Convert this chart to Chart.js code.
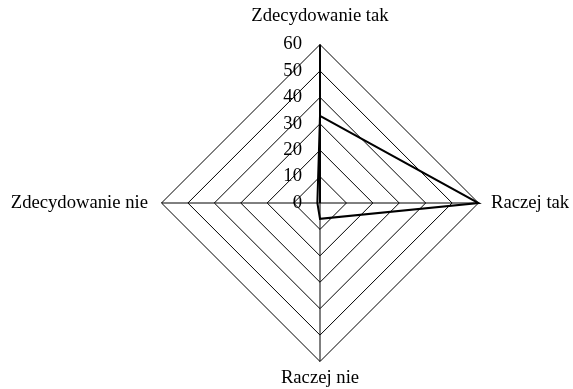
<!DOCTYPE html>
<html>
<head>
<meta charset="utf-8">
<title>Radar</title>
<script src="https://cdn.jsdelivr.net/npm/chart.js@4/dist/chart.umd.min.js"></script>
<style>
  html, body { margin: 0; padding: 0; background: #fff; overflow: hidden; width: 573px; height: 389px; }
  /* canvas is wider/taller than the window so the radius and centre land where the original has them */
  #radar { position: absolute; left: -40px; top: 0; }
</style>
</head>
<body>
<canvas id="radar" width="720" height="396"></canvas>
<script>
const categories = ["Zdecydowanie tak", "Raczej tak", "Raczej nie", "Zdecydowanie nie"];
const answers = [33, 60, 6, 1];
const tickLabels = ["0", "10", "20", "30", "40", "50", "60"];

const FONT = "'Liberation Serif', 'Times New Roman', serif";
const FONT_SIZE = 18.67;
// per-label gap between the outer polygon and the category text
const labelPad = [17.1, 12.5, 5.5, 13.5];

// value labels sit left of the vertical axis, not centred on it
const tickLabelPlugin = {
  id: "tickLabels",
  afterDraw(chart) {
    const r = chart.scales.r;
    const ctx = chart.ctx;
    ctx.save();
    ctx.font = FONT_SIZE + "px " + FONT;
    ctx.fillStyle = "#000";
    ctx.textAlign = "right";
    ctx.textBaseline = "middle";
    r.ticks.forEach((t, i) => {
      const y = r.yCenter - r.getDistanceFromCenterForValue(t.value);
      ctx.fillText(tickLabels[i] ?? t.label, r.xCenter - 18, y);
    });
    ctx.restore();
  },
};

new Chart(document.getElementById("radar"), {
  type: "radar",
  data: {
    labels: categories,
    datasets: [{
      data: answers,
      borderColor: "#000",
      backgroundColor: "transparent",
      borderWidth: 2,
      fill: false,
      pointRadius: 0,
      pointHoverRadius: 0,
      tension: 0,
    }],
  },
  options: {
    responsive: false,
    animation: false,
    events: [],
    layout: { padding: 0 },
    plugins: { legend: { display: false }, tooltip: { enabled: false } },
    scales: {
      r: {
        min: 0,
        max: 60,
        ticks: { stepSize: 10, display: false },
        grid: { color: "#000", lineWidth: 1, circular: false },
        angleLines: {
          color: "#000",
          lineWidth: (ctx) => (ctx.index === 0 ? 2 : 1),
        },
        pointLabels: {
          color: "#000",
          font: { family: FONT, size: FONT_SIZE },
          padding: (ctx) => labelPad[ctx.index],
        },
      },
    },
  },
  plugins: [tickLabelPlugin],
});
</script>
</body>
</html>
